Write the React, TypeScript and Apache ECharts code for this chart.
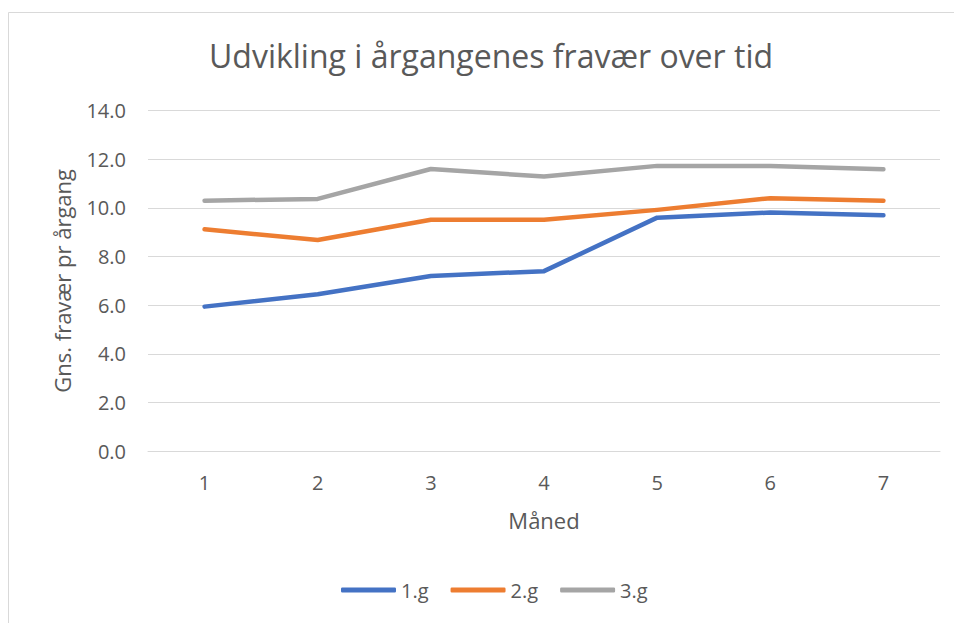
import React, { useEffect, useRef } from "react";
import * as echarts from "echarts";

const months = ["1", "2", "3", "4", "5", "6", "7"];
const g1 = [5.94, 6.45, 7.2, 7.4, 9.6, 9.81, 9.7];
const g2 = [9.12, 8.68, 9.51, 9.51, 9.92, 10.4, 10.3];
const g3 = [10.3, 10.37, 11.6, 11.29, 11.73, 11.73, 11.59];
const seriesNames = ["1.g", "2.g", "3.g"];
const colors = ["#4472C4", "#ED7D31", "#A5A5A5"];

const FONT = "'Open Sans', 'Noto Sans', sans-serif";
const TXT = "#595959";

export default function App() {
  const ref = useRef<HTMLDivElement>(null);
  useEffect(() => {
    const chart = echarts.init(ref.current!, null, { renderer: "svg" });
    const data = [g1, g2, g3];
    chart.setOption({
      animation: false,
      backgroundColor: "#ffffff",
      textStyle: { fontFamily: FONT, color: TXT },
      title: {
        text: "Udvikling i årgangenes fravær over tid",
        left: 204,
        top: 34,
        textStyle: { fontFamily: FONT, fontSize: 32, fontWeight: "normal", color: TXT },
      },
      graphic: [
        {
          type: "rect",
          shape: { x: 8.5, y: 12.5, width: 1000, height: 1000 },
          style: { fill: "none", stroke: "#d9d9d9", lineWidth: 1 },
          silent: true,
          z: -1,
        },
      ],
      grid: { left: 148, right: 14, top: 110.7, bottom: 172 },
      legend: {
        bottom: 18,
        left: 336,
        icon: "roundRect",
        itemWidth: 55,
        itemHeight: 5,
        itemGap: 22,
        textStyle: { fontFamily: FONT, fontSize: 20, color: TXT },
        data: seriesNames,
      },
      xAxis: {
        type: "category",
        data: months,
        boundaryGap: true,
        name: "Måned",
        nameLocation: "middle",
        nameGap: 58,
        nameTextStyle: { fontFamily: FONT, fontSize: 22, color: TXT },
        axisLine: { lineStyle: { color: "#d9d9d9", width: 1 } },
        axisTick: { show: false },
        axisLabel: { fontFamily: FONT, fontSize: 20, color: TXT, margin: 21 },
      },
      yAxis: {
        type: "value",
        min: 0,
        max: 14,
        interval: 2,
        name: "Gns. fravær pr årgang",
        nameLocation: "middle",
        nameGap: 75,
        nameTextStyle: { fontFamily: FONT, fontSize: 22, color: TXT },
        axisLine: { show: false },
        axisTick: { show: false },
        splitLine: { lineStyle: { color: "#d9d9d9", width: 1 } },
        axisLabel: {
          fontFamily: FONT,
          fontSize: 20,
          color: TXT,
          margin: 22,
          formatter: (v: number) => v.toFixed(1),
        },
      },
      series: seriesNames.map((n, i) => ({
        name: n,
        type: "line",
        data: data[i],
        symbol: "none",
        color: colors[i],
        itemStyle: { color: colors[i] },
        lineStyle: { width: 4.5, color: colors[i], cap: "round", join: "round" },
      })),
    });
    return () => chart.dispose();
  }, []);
  return (
    <div
      ref={ref}
      style={{ position: "fixed", left: 0, top: 0, width: 954, height: 623 }}
    />
  );
}
